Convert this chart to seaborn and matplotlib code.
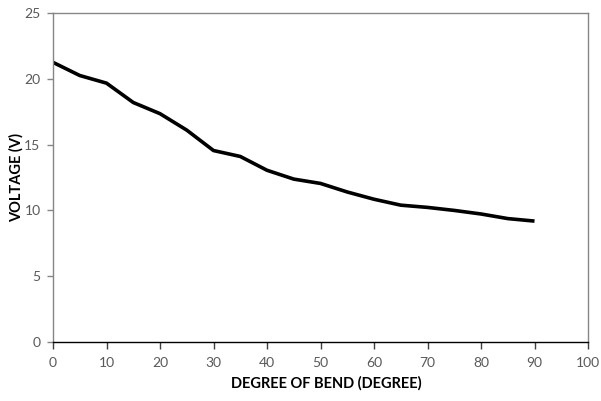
import matplotlib
matplotlib.use("Agg")
import matplotlib.pyplot as plt
import seaborn as sns
import pandas as pd

degree = [0, 5, 10, 15, 20, 25, 30, 35, 40, 45, 50, 55, 60, 65, 70, 75, 80, 85, 90]
voltage = [21.25, 20.25, 19.67, 18.2, 17.35, 16.1, 14.55, 14.1, 13.05, 12.38,
           12.05, 11.4, 10.85, 10.4, 10.23, 10.0, 9.73, 9.38, 9.19]
x_ticks = [0, 10, 20, 30, 40, 50, 60, 70, 80, 90, 100]
y_ticks = [0, 5, 10, 15, 20, 25]

sns.set_style("white")
plt.rcParams['font.family'] = ['Lato', 'DejaVu Sans']

df = pd.DataFrame({"deg": degree, "volt": voltage})

fig = plt.figure(figsize=(6.01, 4.01), dpi=100)
ax = fig.add_axes([0.0882, 0.147, 0.8902, 0.8206])

sns.lineplot(data=df, x="deg", y="volt", ax=ax, color="black", linewidth=2.6,
             solid_joinstyle="round", solid_capstyle="butt")

ax.set_xlim(0, 100)
ax.set_ylim(0, 25)
ax.set_xticks(x_ticks)
ax.set_yticks(y_ticks)
ax.set_xticklabels([str(v) for v in x_ticks])
ax.set_yticklabels([str(v) for v in y_ticks])

for s in ["left", "top", "right"]:
    ax.spines[s].set_color("#868686")
    ax.spines[s].set_linewidth(1.0)
ax.spines["bottom"].set_color("black")
ax.spines["bottom"].set_linewidth(1.0)

ax.tick_params(axis="x", direction="out", length=5, width=1, color="#404040",
               labelsize=10, labelcolor="#595959", pad=6, bottom=True)
ax.tick_params(axis="y", direction="out", length=4, width=1, color="#868686",
               labelsize=10, labelcolor="#595959", pad=5, left=True)

ax.set_xlabel("DEGREE OF BEND (DEGREE)", fontsize=10.5, fontweight="bold",
              color="black")
ax.set_ylabel("VOLTAGE (V)", fontsize=10.5, fontweight="bold",
              color="black")
ax.xaxis.set_label_coords(0.51, -0.103)
ax.yaxis.set_label_coords(-0.055, 0.5)

fig.savefig("out.png", dpi=100, facecolor="white")
